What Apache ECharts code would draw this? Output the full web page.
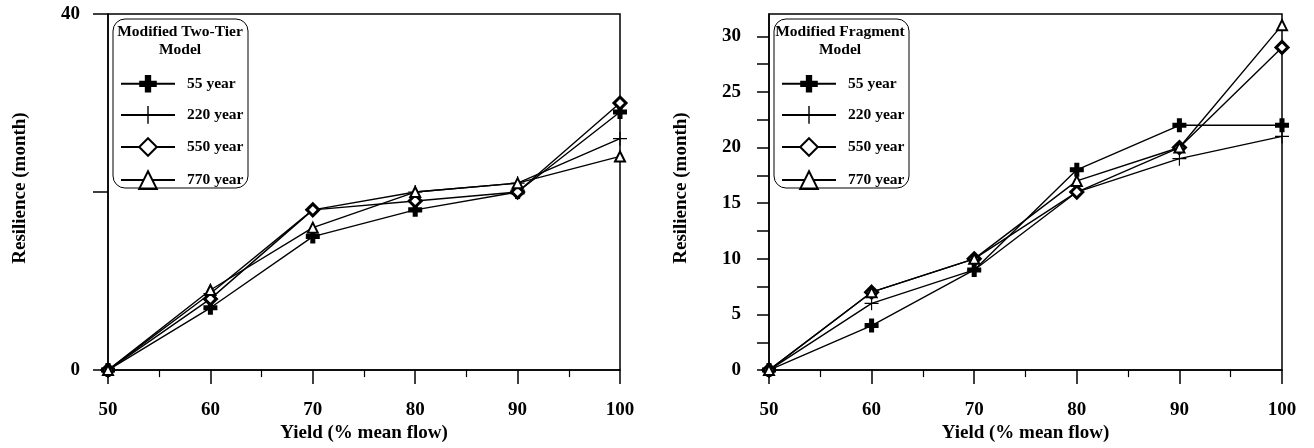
<!DOCTYPE html>
<html><head><meta charset="utf-8">
<script src="https://cdn.jsdelivr.net/npm/echarts@6/dist/echarts.min.js"></script>
<style>html,body{margin:0;padding:0;background:#fff}#c{width:1314px;height:448px}</style>
</head><body><div id="c"></div>
<script>
// ---- data ----
const yieldPct = [50, 60, 70, 80, 90, 100];
const seriesNames = ['55 year', '220 year', '550 year', '770 year'];
const twoTier55  = [0, 7, 15, 18, 20, 29];
const twoTier220 = [0, 8.6, 18, 20, 21, 26];
const twoTier550 = [0, 8, 18, 19, 20, 30];
const twoTier770 = [0, 9, 16, 20, 21, 24];
const fragment55  = [0, 4, 9, 18, 22, 22];
const fragment220 = [0, 6, 9, 16, 19, 21];
const fragment550 = [0, 7, 10, 16, 20, 29];
const fragment770 = [0, 7, 10, 17, 20, 31];
const leftYTicks = [0, 20, 40];
const leftYLabels = [0, 40];
const rightYTicks = [0, 2.5, 5, 7.5, 10, 12.5, 15, 17.5, 20, 22.5, 25, 27.5, 30];
const rightYLabels = [0, 5, 10, 15, 20, 25, 30];
const leftTitle = 'Modified Two-Tier\nModel';
const rightTitle = 'Modified Fragment\nModel';
const xName = 'Yield (% mean flow)';
const yName = 'Resilience (month)';

// ---- styles ----
const FONT = 'Liberation Serif';
const txt = (size) => ({ fontFamily: FONT, fontWeight: 'bold', fontSize: size, color: '#000' });
const BOLD_PLUS = 'path://M3.2,0h3.6v3.2h3.2v3.6h-3.2v3.2h-3.6v-3.2h-3.2v-3.6h3.2z';
const THIN_PLUS = 'path://M4.6,0h0.8v4.6h4.6v0.8h-4.6v4.6h-0.8v-4.6h-4.6v-0.8h4.6z';
const markerStyles = [
  { symbol: BOLD_PLUS, size: 14, item: { color: '#000' } },
  { symbol: THIN_PLUS, size: 14, item: { color: '#000' } },
  { symbol: 'diamond', size: 12, item: { color: '#fff', borderColor: '#000', borderWidth: 3 } },
  { symbol: 'triangle', size: 10, item: { color: '#fff', borderColor: '#000', borderWidth: 2 } }
];

function mk(idx, vals, gi) {
  const st = markerStyles[idx];
  return {
    type: 'line', name: seriesNames[idx], xAxisIndex: gi, yAxisIndex: gi,
    data: yieldPct.map((x, i) => [x, vals[i]]),
    symbol: st.symbol, symbolSize: st.size, showAllSymbol: true,
    itemStyle: st.item,
    lineStyle: { color: '#000', width: 1.4 },
    emphasis: { disabled: true }, animation: false
  };
}

function xAxis(gi) {
  return {
    type: 'value', gridIndex: gi, min: 50, max: 100, interval: 10,
    axisLine: { onZero: false, lineStyle: { color: '#000', width: 1.5 } },
    axisTick: { length: 14, lineStyle: { color: '#000', width: 1.5 } },
    minorTick: { show: true, splitNumber: 2, length: 7, lineStyle: { color: '#000', width: 1.2 } },
    splitLine: { show: false },
    axisLabel: Object.assign({ margin: 30 }, txt(19)),
    name: xName, nameLocation: 'middle', nameGap: 51, nameTextStyle: txt(19)
  };
}

function yAxis(gi, max, ticks, labels) {
  return {
    type: 'value', gridIndex: gi, min: 0, max: max,
    axisLine: { show: true, onZero: false, lineStyle: { color: '#000', width: 1.5 } },
    axisTick: { show: true, customValues: ticks, length: gi === 0 ? 15 : 12, lineStyle: { color: '#000', width: 1.5 } },
    splitLine: { show: false },
    axisLabel: Object.assign({ margin: 28, customValues: labels }, txt(19)),
    name: yName, nameLocation: 'middle', nameGap: 78, nameRotate: 90,
    nameTextStyle: Object.assign({ padding: [0, 0, 0, 8] }, txt(19))
  };
}

function legend(left) {
  return {
    left: left, top: 70, orient: 'vertical', itemWidth: 54, itemHeight: 22, itemGap: 13.5,
    selectedMode: false, data: seriesNames,
    textStyle: Object.assign({ padding: [0, 0, 0, 7] }, txt(15.5))
  };
}

function legendBox(x, title, cx) {
  return [
    { type: 'rect', shape: { x: x, y: 19, width: 135, height: 169, r: 12 },
      style: { fill: 'rgba(0,0,0,0)', stroke: '#000', lineWidth: 1 }, z: 10 },
    { type: 'text', x: cx, y: 23, z: 11,
      style: { text: title, textAlign: 'center', fill: '#000', fontFamily: FONT,
               fontWeight: 'bold', fontSize: 15.5, lineHeight: 18 } }
  ];
}

const chart = echarts.init(document.getElementById('c'), null, { renderer: 'canvas' });
chart.setOption({
  backgroundColor: '#fff',
  animation: false,
  grid: [
    { left: 108, right: 694, top: 14, bottom: 76, show: true, borderColor: '#000', borderWidth: 1.5 },
    { left: 769, right: 32, top: 14, bottom: 76, show: true, borderColor: '#000', borderWidth: 1.5 }
  ],
  xAxis: [xAxis(0), xAxis(1)],
  yAxis: [yAxis(0, 40, leftYTicks, leftYLabels), yAxis(1, 32, rightYTicks, rightYLabels)],
  legend: [legend(115), legend(776)],
  graphic: [].concat(legendBox(113, leftTitle, 180), legendBox(774, rightTitle, 840)),
  series: [
    mk(0, twoTier55, 0), mk(1, twoTier220, 0), mk(2, twoTier550, 0), mk(3, twoTier770, 0),
    mk(0, fragment55, 1), mk(1, fragment220, 1), mk(2, fragment550, 1), mk(3, fragment770, 1)
  ]
});
</script>
</body></html>
